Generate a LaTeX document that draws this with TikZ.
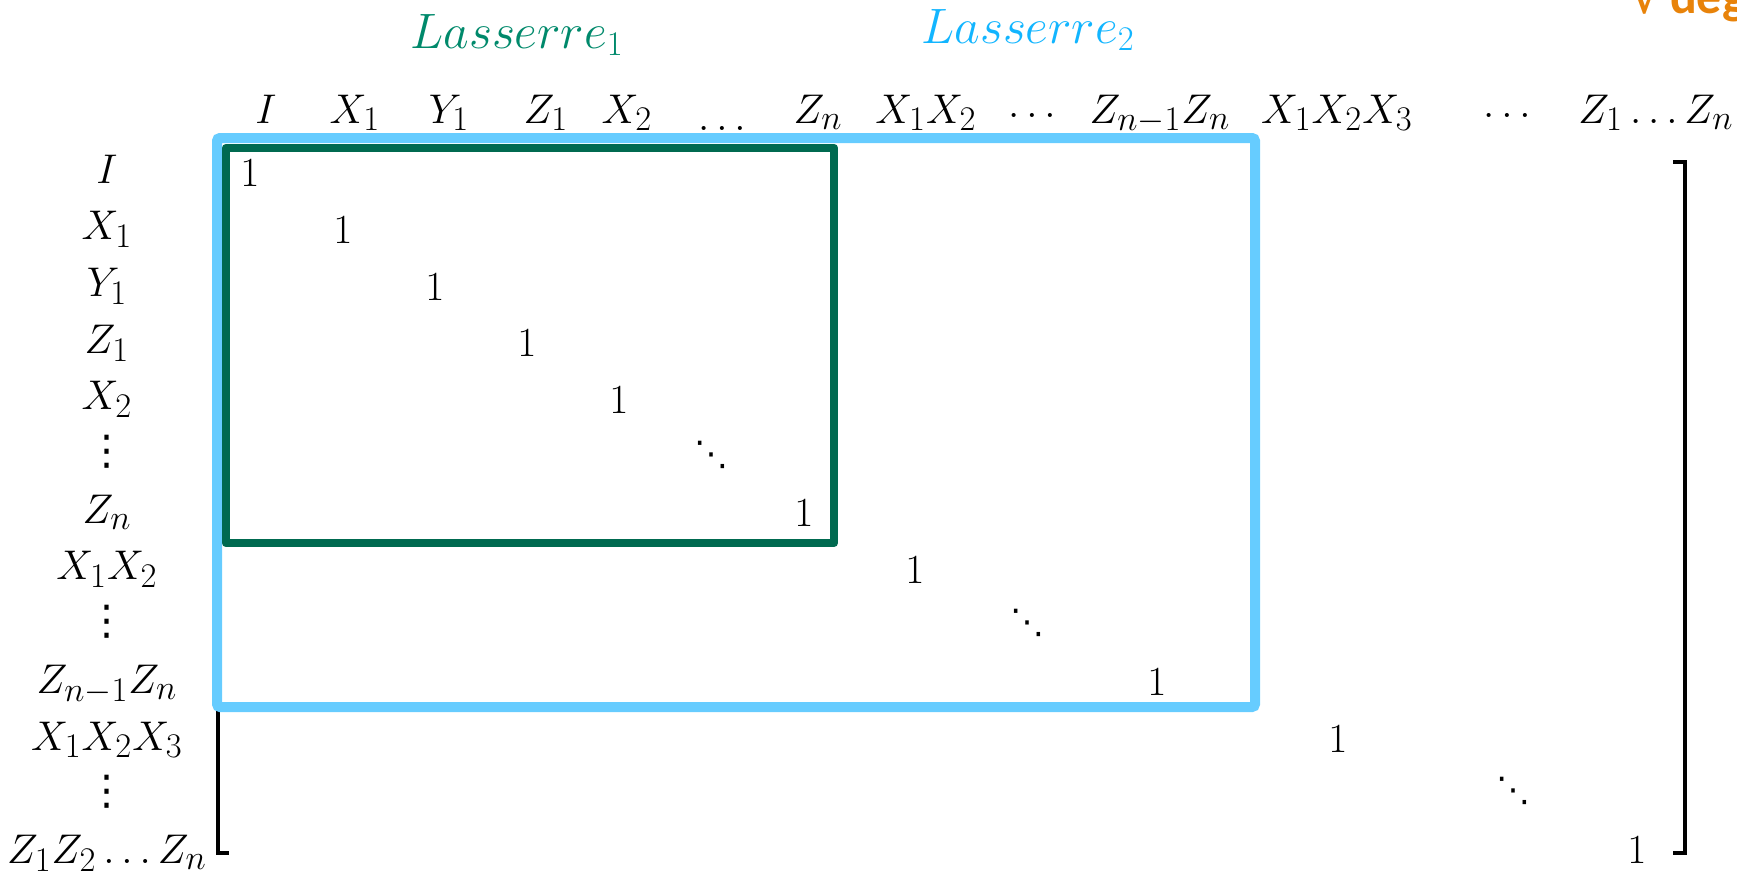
\documentclass[tikz,border=0pt]{standalone}
\usepackage{fontspec}
\newfontfamily\orfont{Carlito}
\newfontfamily\symfont{DejaVu Sans}
\definecolor{lblue}{HTML}{66CCFF}
\definecolor{dgreen}{HTML}{006A50}
\definecolor{lasone}{HTML}{00896B}
\definecolor{lastwo}{HTML}{12B5FF}
\definecolor{orng}{HTML}{E8830A}
\begin{document}
\begin{tikzpicture}[x=0.5pt,y=-0.5pt,
  every node/.style={inner sep=0pt, outer sep=0pt, font=\fontsize{22.7}{27}\selectfont},
  lab/.style={anchor=base},
  one/.style={anchor=base},
  dd/.style={anchor=center, font=\fontsize{17}{20}\selectfont\symfont},
  vd/.style={anchor=center, font=\fontsize{20.5}{24}\selectfont\symfont},
  blueR/.style={draw=lblue, line width=5pt, rounded corners=1.5pt},
  greenR/.style={draw=dgreen, line width=4.2pt, line join=round},
  brk/.style={draw=black, line width=2.2pt},
]
\clip (0,0) rectangle (1737,879);

% titles
\node[lab, text=lasone, font=\fontsize{23.5}{28}\selectfont] (las1) at (517,48) {$Lasserre_1$};
\node[lab, text=lastwo, font=\fontsize{23.5}{28}\selectfont] (las2) at (1028,43) {$Lasserre_2$};
\node[anchor=base, text=orng, font=\fontsize{20}{24}\selectfont\symfont\bfseries] (chk) at (1646,13) {√};
\node[anchor=base west, text=orng, font=\fontsize{25}{30}\selectfont\orfont\bfseries] (deg) at (1670,13) {degree};

% column headers
\node[lab] (h1) at (266,123) {$I$};
\node[lab] (h2) at (355,123) {$X_1$};
\node[lab] (h3) at (449,123) {$Y_1$};
\node[lab] (h4) at (546,123) {$Z_1$};
\node[lab] (h5) at (627,123) {$X_2$};
\node[lab] (h6) at (722,130) {$\ldots$};
\node[lab] (h7) at (818,123) {$Z_n$};
\node[lab] (h8) at (926,123) {$X_1X_2$};
\node[lab] (h9) at (1032,117) {$\ldots$};
\node[lab] (h10) at (1160,123) {$Z_{n-1}Z_n$};
\node[lab] (h11) at (1337,123) {$X_1X_2X_3$};
\node[lab] (h12) at (1507,117) {$\ldots$};
\node[lab] (h13) at (1656,123) {$Z_1\ldots Z_n$};

% row labels
\node[lab] (r1) at (107,183) {$I$};
\node[lab] (r2) at (107,239.7) {$X_1$};
\node[lab] (r3) at (107,296.4) {$Y_1$};
\node[lab] (r4) at (107,353.1) {$Z_1$};
\node[lab] (r5) at (107,409.8) {$X_2$};
\node[vd] (r6) at (107,452) {⋮};
\node[lab] (r7) at (107,523.2) {$Z_n$};
\node[lab] (r8) at (107,579.9) {$X_1X_2$};
\node[vd] (r9) at (107,622) {⋮};
\node[lab] (r10) at (107,693.3) {$Z_{n-1}Z_n$};
\node[lab] (r11) at (107,750) {$X_1X_2X_3$};
\node[vd] (r12) at (107,792) {⋮};
\node[lab] (r13) at (107,863.4) {$Z_1Z_2\ldots Z_n$};

% brackets
\coordinate (lbT) at (218,707);
\coordinate (lbB) at (218,853);
\coordinate (lbE) at (229,853);
\draw[brk] (lbT) -- (lbB) -- (lbE);
\coordinate (rbTs) at (1673,162);
\coordinate (rbT) at (1685,162);
\coordinate (rbB) at (1685,853);
\coordinate (rbBs) at (1673,853);
\draw[brk] (rbTs) -- (rbT) -- (rbB) -- (rbBs);

% Lasserre boxes
\coordinate (bNW) at (217,138);
\coordinate (bSE) at (1255,707);
\draw[blueR] (bNW) rectangle (bSE);
\coordinate (gNW) at (226,148);
\coordinate (gSE) at (834,543);
\draw[greenR] (gNW) rectangle (gSE);

% diagonal entries
\node[one] (e1) at (250,186) {$1$};
\node[one] (e2) at (343,243) {$1$};
\node[one] (e3) at (435,300) {$1$};
\node[one] (e4) at (527,356) {$1$};
\node[one] (e5) at (619,413) {$1$};
\node[dd] (e6) at (711,455) {⋱};
\node[one] (e7) at (804,526) {$1$};
\node[one] (e8) at (915,583) {$1$};
\node[dd] (e9) at (1027,623) {⋱};
\node[one] (e10) at (1157,695) {$1$};
\node[one] (e11) at (1338,752) {$1$};
\node[dd] (e12) at (1513,791) {⋱};
\node[one] (e13) at (1637,863) {$1$};
\end{tikzpicture}
\end{document}
